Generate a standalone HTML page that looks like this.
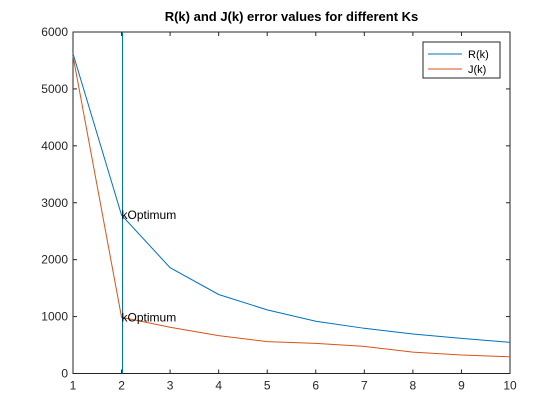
<!DOCTYPE html>
<html><head><meta charset="utf-8"><style>
body{margin:0;background:#fff;}
svg{display:block;font-family:"Liberation Sans",Arial,sans-serif;}
</style></head><body>
<svg id="chart" width="560" height="420"></svg>
<script>
const ks=[1,2,3,4,5,6,7,8,9,10];
const rVals=[5620,2782,1859,1388,1118,918,794,694,618,547];
const jVals=[5580,988,812,665,559,529,476,376,324,294];
const xTicks=[1,2,3,4,5,6,7,8,9,10];
const yTicks=[0,1000,2000,3000,4000,5000,6000];
const kOpt=2;
const L=73,R=510,T=32,B=373.5;
const sx=v=>L+(v-1)/9*(R-L);
const sy=v=>B-v/6000*(B-T);
const NS="http://www.w3.org/2000/svg";
const svg=document.getElementById('chart');
function mk(t,a,p){const e=document.createElementNS(NS,t);for(const k in a)e.setAttribute(k,a[k]);(p||svg).appendChild(e);return e;}
const bg=mk('rect',{x:L,y:T,width:R-L,height:B-T,fill:'#fff'});


const title=mk('text',{x:(L+R)/2,y:21,'text-anchor':'middle','font-size':13,'font-weight':'bold',fill:'#000'});
title.textContent='R(k) and J(k) error values for different Ks';


xTicks.forEach(v=>{const x=sx(v);
mk('line',{x1:x,x2:x,y1:B,y2:B-4,stroke:'#262626'});mk('line',{x1:x,x2:x,y1:T,y2:T+4,stroke:'#262626'});
const t=mk('text',{x:x,y:B+16,'text-anchor':'middle','font-size':12,fill:'#262626'});t.textContent=v;

});
yTicks.forEach(v=>{const y=sy(v);
mk('line',{x1:L,x2:L+4,y1:y,y2:y,stroke:'#262626'});mk('line',{x1:R,x2:R-4,y1:y,y2:y,stroke:'#262626'});
const t=mk('text',{x:L-5,y:y+4,'text-anchor':'end','font-size':12,fill:'#262626'});t.textContent=v;

});
const fr=mk('rect',{x:L,y:T,width:R-L,height:B-T,fill:'none',stroke:'#262626'});


const rl=mk('polyline',{points:ks.map((k,i)=>sx(k)+','+sy(rVals[i])).join(' '),fill:'none',stroke:'#0072bd'});


const jl=mk('polyline',{points:ks.map((k,i)=>sx(k)+','+sy(jVals[i])).join(' '),fill:'none',stroke:'#d95319'});


const vx=Math.round(sx(kOpt))+0.5;
const vl=mk('line',{x1:vx,x2:vx,y1:sy(0),y2:sy(6000),stroke:'#0072bd','shape-rendering':'crispEdges'});


[rVals,jVals].forEach(arr=>{const t=mk('text',{x:sx(kOpt),y:sy(arr[kOpt-1])+4,'font-size':12,fill:'#000'});t.textContent='kOptimum';

});
const lg=mk('g',{});


mk('rect',{x:423,y:42,width:77,height:36,fill:'#fff',stroke:'#262626'},lg);
[['R(k)','#0072bd',54],['J(k)','#d95319',69]].forEach(([n,c,y])=>{
mk('line',{x1:428,x2:462,y1:y,y2:y,stroke:c},lg);
const t=mk('text',{x:468,y:y+4,'font-size':11,fill:'#000'},lg);t.textContent=n;

});
</script>
</body></html>
